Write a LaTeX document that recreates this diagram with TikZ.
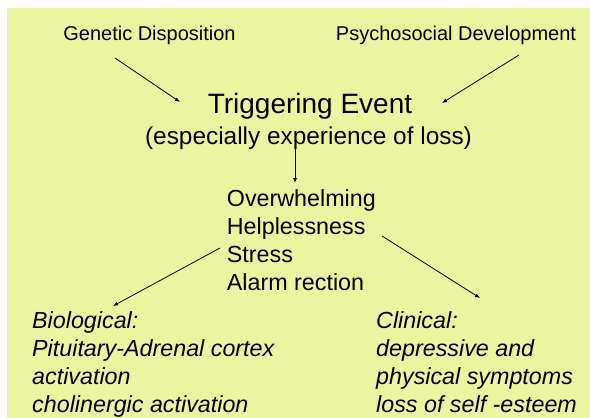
\documentclass[tikz,border=0pt]{standalone}
\usepackage{fontspec}
\setmainfont{Liberation Sans}
\usetikzlibrary{arrows.meta}
\definecolor{pad}{RGB}{235,245,160}
\begin{document}
\begin{tikzpicture}[x=1pt,y=-1pt,
  lbl/.style={inner sep=0pt,anchor=base},
  block/.style={inner sep=0pt,anchor=north west,align=left,
    font=\fontsize{23.3}{28}\selectfont},
  arr/.style={-{Latex[length=5pt,width=4pt]},line width=0.8pt}]
\useasboundingbox (0,0) rectangle (590,418);
\fill[pad] (7,8) rectangle (590,418);

% causes
\node[lbl,font=\fontsize{20}{24}\selectfont] (gen) at (149.5,40.7) {Genetic Disposition};
\node[lbl,font=\fontsize{20}{24}\selectfont] (psy) at (456,40.7) {Psychosocial Development};

% trigger
\node[lbl,font=\fontsize{28}{32}\selectfont] (trig) at (310,113) {Triggering Event};
\node[lbl,font=\fontsize{24.4}{28}\selectfont] (loss) at (308.5,144) {(especially experience of loss)};

% reaction
\node[block] (react) at (226.7,189) {Overwhelming\\Helplessness\\Stress\\Alarm rection};

% consequences
\node[block,font=\fontsize{23.3}{28}\selectfont\itshape] (bio) at (32,311)
  {Biological:\\Pituitary-Adrenal cortex\\activation\\cholinergic activation};
\node[block,font=\fontsize{23.3}{28}\selectfont\itshape] (clin) at (376,311)
  {Clinical:\\depressive and\\physical symptoms\\loss of self -esteem};

% connector ends
\coordinate (genOut) at (115,58);
\coordinate (trigInL) at (180,102);
\coordinate (psyOut) at (519,55);
\coordinate (trigInR) at (442,103);
\coordinate (lossOut) at (295,147);
\coordinate (reactIn) at (295,183);
\coordinate (reactOutL) at (220,248);
\coordinate (bioIn) at (113,306);
\coordinate (reactOutR) at (382,236);
\coordinate (clinIn) at (480,298);

\draw[arr] (genOut) -- (trigInL);
\draw[arr] (psyOut) -- (trigInR);
\draw[arr] (lossOut) -- (reactIn);
\draw[arr] (reactOutL) -- (bioIn);
\draw[arr] (reactOutR) -- (clinIn);
\end{tikzpicture}
\end{document}
